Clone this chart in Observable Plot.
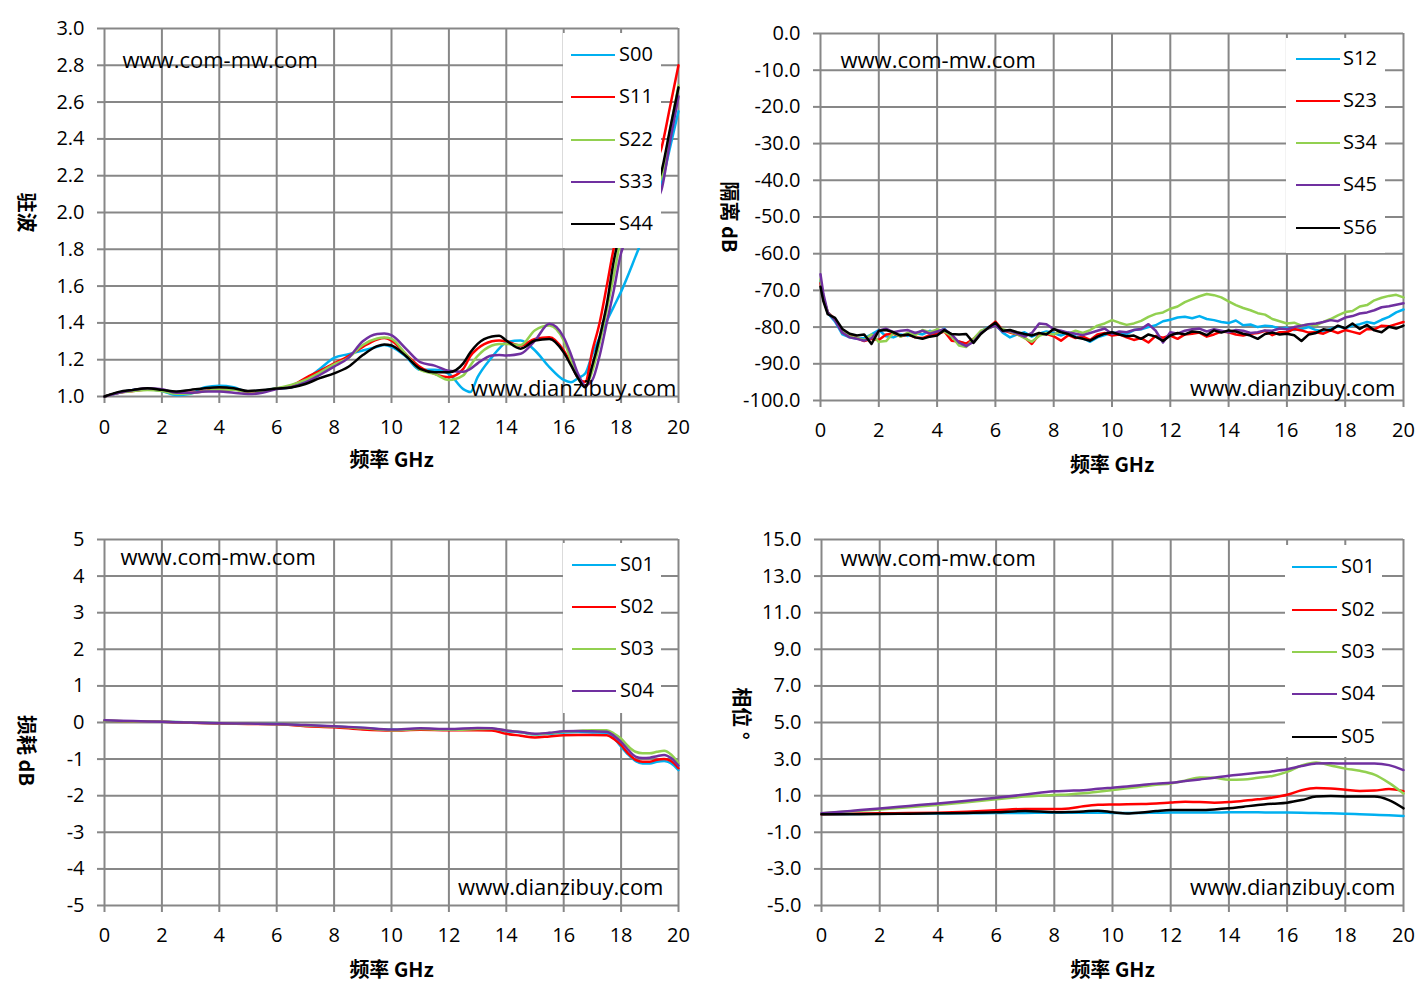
<!DOCTYPE html>
<html><head><meta charset="utf-8">
<script src="https://cdn.jsdelivr.net/npm/d3@7"></script>
<script src="https://cdn.jsdelivr.net/npm/@observablehq/plot@0.6"></script>
<style>
html,body{margin:0;padding:0;background:#fff;}
body{width:1427px;height:999px;position:relative;overflow:hidden;font-family:"Open Sans",sans-serif;color:#000;}
.panel{position:absolute;}
.panel svg{overflow:visible;}
.legend{position:absolute;background:#fff;}
.lg-line{position:absolute;height:2px;}
.lg-text{position:absolute;font-size:20px;line-height:28px;height:28px;white-space:nowrap;}
</style></head>
<body>
<script>
// ---------- shared ----------
const xTicks = [0,2,4,6,8,10,12,14,16,18,20];
const seriesColors = ["#00B0F0","#FF0000","#92D050","#7030A0","#000000"];
const xTitle = "频率 GHz";
const siteA = "www.com-mw.com";
const siteB = "www.dianzibuy.com";

// ---------- panel 1: VSWR ----------
const vswrNames = ["S00","S11","S22","S33","S44"];
const vswrTicks = [1.0,1.2,1.4,1.6,1.8,2.0,2.2,2.4,2.6,2.8,3.0];
const vswrFreq = [0,0.5,1,1.5,2,2.5,3,3.5,4,4.5,5,5.5,6,6.5,7,7.5,8,8.5,9,9.5,9.75,10,10.5,11,11.5,12,12.5,12.75,13,13.5,13.75,14,14.5,15,15.5,16,16.25,16.5,16.75,17,17.25,17.5,17.75,18,18.5,19,19.4,19.7,20];
const vswrS00 = [1.00,1.02,1.035,1.04,1.03,1.008,1.015,1.05,1.058,1.05,1.027,1.032,1.043,1.05,1.09,1.15,1.21,1.23,1.25,1.27,1.28,1.27,1.217,1.145,1.145,1.123,1.04,1.024,1.105,1.214,1.26,1.295,1.304,1.25,1.16,1.09,1.078,1.10,1.125,1.23,1.32,1.41,1.49,1.57,1.76,1.96,2.15,2.35,2.55];
const vswrS11 = [1.00,1.02,1.03,1.038,1.035,1.02,1.02,1.03,1.04,1.04,1.025,1.03,1.043,1.058,1.10,1.14,1.18,1.22,1.27,1.31,1.318,1.304,1.23,1.16,1.123,1.105,1.15,1.22,1.26,1.30,1.305,1.30,1.277,1.313,1.322,1.25,1.18,1.10,1.08,1.25,1.40,1.60,1.81,1.96,2.10,2.22,2.346,2.57,2.80];
const vswrS22 = [1.00,1.02,1.03,1.036,1.03,1.015,1.018,1.028,1.038,1.036,1.027,1.03,1.045,1.063,1.09,1.13,1.175,1.21,1.28,1.315,1.32,1.313,1.23,1.145,1.123,1.09,1.115,1.17,1.22,1.277,1.285,1.286,1.28,1.36,1.386,1.304,1.20,1.10,1.06,1.14,1.29,1.47,1.66,1.86,2.00,2.10,2.19,2.44,2.69];
const vswrS33 = [1.00,1.02,1.035,1.045,1.04,1.02,1.02,1.027,1.027,1.02,1.013,1.02,1.04,1.05,1.076,1.117,1.162,1.21,1.30,1.34,1.342,1.333,1.26,1.187,1.168,1.14,1.135,1.15,1.18,1.223,1.225,1.223,1.232,1.304,1.395,1.322,1.23,1.123,1.06,1.09,1.22,1.40,1.58,1.78,1.92,2.02,2.12,2.38,2.63];
const vswrS44 = [1.00,1.025,1.036,1.045,1.036,1.027,1.036,1.045,1.05,1.045,1.03,1.035,1.043,1.049,1.068,1.10,1.126,1.162,1.225,1.274,1.283,1.277,1.22,1.15,1.132,1.132,1.18,1.24,1.286,1.326,1.33,1.304,1.26,1.304,1.313,1.24,1.17,1.10,1.05,1.17,1.32,1.50,1.74,1.90,2.00,2.10,2.22,2.45,2.68];

// ---------- panel 2: isolation ----------
const isoNames = ["S12","S23","S34","S45","S56"];
const isoTicks = [0,-10,-20,-30,-40,-50,-60,-70,-80,-90,-100];
const isoFreq = [0,0.1,0.25,0.5,0.75,1,1.25,1.5,1.75,2,2.25,2.5,2.75,3,3.25,3.5,3.75,4,4.25,4.5,4.75,5,5.25,5.5,5.75,6,6.25,6.5,6.75,7,7.25,7.5,7.75,8,8.25,8.5,8.75,9,9.25,9.5,9.75,10,10.25,10.5,10.75,11,11.25,11.5,11.75,12,12.25,12.5,12.75,13,13.25,13.5,13.75,14,14.25,14.5,14.75,15,15.25,15.5,15.75,16,16.25,16.5,16.75,17,17.25,17.5,17.75,18,18.25,18.5,18.75,19,19.25,19.5,19.75,20];
const isoS12 = [-67.5,-72,-76.2,-78.5,-82.0,-82.8,-83.2,-83.0,-82.0,-80.8,-82.5,-82.8,-82.0,-82.4,-81.6,-82.0,-81.0,-81.6,-80.4,-82.8,-84.0,-84.5,-83.7,-81.2,-80.0,-79.2,-81.5,-82.8,-82.0,-81.4,-82.6,-81.8,-81.2,-81.6,-82.3,-81.5,-82.6,-83.0,-84.0,-82.8,-82.2,-81.4,-81.8,-81.9,-80.8,-80.6,-80.0,-79.5,-78.4,-78.0,-77.4,-77.2,-77.6,-77.0,-77.8,-78.1,-78.6,-78.9,-78.2,-79.5,-79.3,-80.0,-79.6,-79.8,-80.4,-80.2,-80.8,-80.5,-80.0,-80.8,-81.2,-80.5,-79.8,-80.3,-79.6,-79.2,-78.6,-79.0,-78.0,-77.2,-76.0,-75.2];
const isoS23 = [-68,-72.5,-76,-77.8,-81.5,-82.3,-83.0,-83.8,-83.2,-83.5,-82.0,-81.8,-82.5,-82.0,-82.8,-83.0,-82.2,-81.8,-81.2,-83.7,-83.9,-84.5,-83.2,-81.5,-80.2,-78.5,-80.8,-81.5,-82.0,-82.8,-84.6,-82.0,-81.8,-82.5,-83.7,-82.2,-83.0,-82.6,-83.5,-82.0,-81.6,-82.3,-82.0,-82.8,-83.5,-83.0,-84.2,-82.4,-82.9,-82.3,-83.2,-82.0,-81.8,-81.5,-82.6,-82.0,-81.2,-81.4,-82.0,-82.3,-81.8,-81.6,-81.0,-82.2,-81.4,-81.4,-80.5,-80.9,-81.5,-81.4,-81.8,-80.9,-81.6,-80.8,-81.3,-81.8,-80.5,-80.6,-79.6,-79.8,-79.2,-78.6];
const isoS34 = [-67,-72,-76,-78.0,-81.0,-82.5,-83.0,-83.5,-82.0,-84.0,-83.8,-81.6,-82.6,-81.5,-82.2,-80.8,-81.4,-80.6,-81.2,-82.5,-85.0,-85.4,-83.2,-81.0,-80.4,-79.5,-80.6,-81.2,-82.0,-83.0,-84.0,-82.4,-81.6,-82.0,-81.2,-81.8,-81.0,-81.6,-80.8,-79.6,-79.0,-78.1,-78.8,-79.4,-79.0,-78.3,-77.2,-76.4,-76.0,-75.0,-74.4,-73.2,-72.4,-71.6,-71.0,-71.3,-71.9,-73.0,-74.0,-74.8,-75.4,-76.2,-76.6,-77.8,-78.4,-79.0,-78.8,-79.6,-79.2,-79.5,-78.6,-77.8,-76.8,-75.9,-75.6,-74.4,-74.0,-72.7,-72.0,-71.5,-71.2,-71.9];
const isoS45 = [-65.6,-71,-76,-78.2,-81.5,-82.8,-83.2,-83.7,-83.0,-81.0,-80.4,-81.4,-81.0,-80.8,-81.6,-81.0,-81.8,-81.2,-80.6,-82.0,-84.2,-85.2,-84.0,-81.6,-80.3,-79.6,-81.2,-81.0,-81.8,-82.6,-81.6,-79.0,-79.2,-80.6,-81.0,-81.5,-81.8,-82.2,-81.6,-81.0,-80.4,-81.9,-81.2,-81.4,-80.8,-80.5,-79.2,-81.0,-84.2,-81.4,-81.8,-81.0,-80.6,-80.4,-81.2,-80.6,-81.0,-81.4,-80.8,-81.0,-81.6,-81.4,-80.9,-81.0,-80.4,-80.6,-80.0,-79.6,-79.2,-79.0,-78.6,-78.1,-78.4,-77.4,-77.0,-76.3,-76.0,-75.4,-74.6,-74.3,-73.9,-73.5];
const isoS56 = [-69,-73,-76.5,-77.5,-80.5,-81.8,-82.3,-82.0,-84.6,-81.0,-80.8,-81.4,-82.3,-82.0,-82.8,-83.2,-82.6,-82.3,-80.8,-81.9,-82.0,-81.9,-84.3,-81.9,-80.2,-78.8,-81.0,-80.8,-81.4,-81.9,-82.3,-81.6,-82.0,-80.5,-81.4,-81.9,-82.8,-83.2,-83.7,-82.6,-81.8,-81.4,-82.0,-82.5,-82.3,-83.2,-82.0,-82.6,-83.8,-82.3,-81.6,-82.0,-81.2,-81.4,-82.2,-80.9,-81.5,-80.9,-81.2,-81.8,-82.3,-83.2,-81.9,-81.5,-82.0,-81.8,-82.2,-83.8,-82.0,-81.6,-80.6,-80.9,-79.6,-80.3,-79.0,-80.5,-79.4,-80.9,-81.4,-79.9,-80.4,-79.6];

// ---------- panel 3: insertion loss ----------
const lossNames = ["S01","S02","S03","S04"];
const lossTicks = [5,4,3,2,1,0,-1,-2,-3,-4,-5];
const lossFreq = [0,1,2,3,4,5,6,7,8,9,10,11,12,13,13.5,14,14.5,15,15.5,16,16.5,17,17.5,17.75,18,18.25,18.5,18.75,19,19.25,19.5,19.75,20];
const lossS01 = [0.05,0.03,0.02,0.0,-0.02,-0.03,-0.04,-0.08,-0.11,-0.15,-0.20,-0.18,-0.19,-0.19,-0.18,-0.24,-0.27,-0.33,-0.31,-0.27,-0.26,-0.27,-0.28,-0.42,-0.66,-0.88,-1.05,-1.12,-1.12,-1.07,-1.05,-1.12,-1.30];
const lossS02 = [0.05,0.03,0.02,-0.01,-0.03,-0.04,-0.05,-0.10,-0.13,-0.19,-0.22,-0.20,-0.21,-0.21,-0.22,-0.31,-0.36,-0.41,-0.38,-0.35,-0.34,-0.34,-0.35,-0.45,-0.62,-0.85,-1.02,-1.07,-1.07,-1.02,-1.00,-1.06,-1.25];
const lossS03 = [0.05,0.03,0.02,0.0,-0.02,-0.03,-0.04,-0.08,-0.11,-0.16,-0.21,-0.18,-0.20,-0.18,-0.17,-0.22,-0.26,-0.32,-0.29,-0.25,-0.23,-0.21,-0.21,-0.30,-0.44,-0.65,-0.80,-0.84,-0.84,-0.80,-0.77,-0.88,-1.12];
const lossS04 = [0.06,0.04,0.02,0.0,-0.02,-0.03,-0.04,-0.07,-0.10,-0.14,-0.19,-0.16,-0.18,-0.15,-0.16,-0.22,-0.26,-0.31,-0.28,-0.24,-0.23,-0.24,-0.25,-0.36,-0.53,-0.75,-0.93,-0.97,-0.96,-0.92,-0.89,-0.98,-1.18];

// ---------- panel 4: phase ----------
const phaseNames = ["S01","S02","S03","S04","S05"];
const phaseTicks = [15,13,11,9,7,5,3,1,-1,-3,-5];
const phaseFreq = [0,1,2,3,4,5,6,7,8,8.5,9,9.5,10,10.5,11,11.5,12,12.5,13,13.5,14,14.5,15,15.5,16,16.5,17,17.5,18,18.5,19,19.5,20];
const phaseS01 = [-0.02,0.0,0.01,0.02,0.03,0.04,0.05,0.06,0.07,0.07,0.07,0.07,0.06,0.05,0.06,0.07,0.08,0.08,0.08,0.08,0.09,0.09,0.09,0.08,0.08,0.07,0.05,0.04,0.02,-0.01,-0.04,-0.07,-0.11];
const phaseS02 = [-0.02,0.02,0.04,0.05,0.07,0.12,0.20,0.28,0.27,0.30,0.42,0.50,0.52,0.53,0.55,0.58,0.63,0.67,0.65,0.62,0.65,0.72,0.80,0.90,1.05,1.30,1.42,1.40,1.33,1.26,1.28,1.36,1.25];
const phaseS03 = [0.04,0.15,0.25,0.37,0.49,0.64,0.80,0.95,1.04,1.07,1.13,1.22,1.31,1.40,1.50,1.60,1.67,1.82,2.00,1.98,1.87,1.88,1.98,2.08,2.30,2.65,2.82,2.65,2.48,2.36,2.15,1.70,1.12];
const phaseS04 = [0.04,0.17,0.30,0.44,0.58,0.73,0.89,1.06,1.24,1.27,1.30,1.38,1.44,1.50,1.58,1.66,1.71,1.80,1.89,1.98,2.09,2.17,2.25,2.33,2.44,2.62,2.76,2.77,2.76,2.76,2.76,2.67,2.40];
const phaseS05 = [-0.02,-0.01,0.0,0.02,0.04,0.06,0.09,0.16,0.10,0.11,0.14,0.18,0.10,0.03,0.08,0.16,0.22,0.22,0.22,0.25,0.31,0.40,0.49,0.56,0.62,0.76,0.95,0.98,0.96,0.95,0.95,0.76,0.31];

// ---------- drawing ----------
const GRID = "#878787";
const CJK = '"Noto Sans CJK SC", sans-serif';

function longTable(freq, names, values) {
  const rows = [];
  names.forEach((n, i) => freq.forEach((f, j) => rows.push({f, v: values[i][j], s: n})));
  return rows;
}

function panel(cfg) {
  const data = longTable(cfg.freq, cfg.names, cfg.values);
  const chart = Plot.plot({
    width: cfg.w, height: cfg.h,
    marginLeft: cfg.ml, marginRight: cfg.mr, marginTop: cfg.mt, marginBottom: cfg.mb,
    style: {fontFamily: '"Open Sans", sans-serif', fontSize: "20px", color: "#000", background: "transparent", overflow: "visible"},
    x: {domain: [0, 20]},
    y: {domain: cfg.yDomain},
    color: {domain: cfg.names, range: seriesColors.slice(0, cfg.names.length)},
    marks: [
      Plot.ruleX(xTicks, {x: d => d, stroke: GRID, strokeWidth: 2}),
      Plot.ruleY(cfg.yTicks, {y: d => d, stroke: GRID, strokeWidth: 2}),
      Plot.axisX({ticks: xTicks, tickSize: 7, tickPadding: cfg.xpad, stroke: GRID, strokeWidth: 2, fill: "#000", label: null, tickFormat: d => String(d), fontSize: 20}),
      Plot.axisY({ticks: cfg.yTicks, tickSize: 7, tickPadding: 13, stroke: GRID, strokeWidth: 2, fill: "#000", label: null, tickFormat: cfg.fmt, fontSize: 20}),
      Plot.line(data, {x: "f", y: "v", z: "s", stroke: "s", strokeWidth: 2.5, curve: cfg.curve}),
      Plot.text([siteA], {text: d => d, frameAnchor: "top-left", textAnchor: "start", lineAnchor: "middle", dx: cfg.a[0], dy: cfg.a[1], fontSize: 22, fill: "#000"}),
      Plot.text([siteB], {text: d => d, frameAnchor: "bottom-right", textAnchor: "end", lineAnchor: "middle", dx: cfg.b[0], dy: cfg.b[1], fontSize: 22, fill: "#000"}),
      Plot.text([xTitle], {text: d => d, frameAnchor: "bottom", textAnchor: "middle", lineAnchor: "middle", dy: cfg.xl, fontSize: 20, fontWeight: "bold", fontFamily: CJK, fill: "#000"}),
      Plot.text([cfg.ylabel], {text: d => d, frameAnchor: "left", textAnchor: "middle", lineAnchor: "middle", rotate: 90, dx: cfg.yl[0], dy: cfg.yl[1], fontSize: 20, fontWeight: "bold", fontFamily: CJK, fill: "#000"})
    ]
  });
  const div = document.createElement("div");
  div.className = "panel";
  div.style.left = cfg.left + "px";
  div.style.top = cfg.top + "px";
  div.appendChild(chart);
  document.body.appendChild(div);

  // legend (white box over plot area)
  const lg = cfg.legend;
  const box = document.createElement("div");
  box.className = "legend";
  box.style.left = lg.x0 + "px"; box.style.top = lg.y0 + "px";
  box.style.width = (lg.x1 - lg.x0) + "px"; box.style.height = (lg.y1 - lg.y0) + "px";
  document.body.appendChild(box);
  cfg.names.forEach((n, i) => {
    const y = lg.rows[i];
    const ln = document.createElement("div");
    ln.className = "lg-line";
    ln.style.left = lg.line[0] + "px"; ln.style.width = (lg.line[1] - lg.line[0]) + "px";
    ln.style.top = (y - 1) + "px"; ln.style.background = seriesColors[i];
    document.body.appendChild(ln);
    const tx = document.createElement("div");
    tx.className = "lg-text";
    tx.style.left = lg.text + "px"; tx.style.top = (y - 15) + "px";
    tx.textContent = n;
    document.body.appendChild(tx);
  });
}

panel({
  left: 0, top: 0, w: 700, h: 490, ml: 104, mr: 22, mt: 28, mb: 94,
  freq: vswrFreq, names: vswrNames, values: [vswrS00, vswrS11, vswrS22, vswrS33, vswrS44],
  yDomain: [1.0, 3.0], yTicks: vswrTicks, fmt: d => d.toFixed(1), curve: "monotone-x",
  xpad: 16, xl: 64, ylabel: "驻波", yl: [-79, 0],
  a: [18, 32], b: [-2, -8],
  legend: {x0: 563, x1: 661, y0: 33, y1: 248, rows: [55, 97, 140, 182, 224], line: [571, 615], text: 619}
});

panel({
  left: 710, top: 0, w: 717, h: 490, ml: 110, mr: 24, mt: 33, mb: 90,
  freq: isoFreq, names: isoNames, values: [isoS12, isoS23, isoS34, isoS45, isoS56],
  yDomain: [-100, 0], yTicks: isoTicks, fmt: d => d.toFixed(1), curve: "linear",
  xpad: 15, xl: 65, ylabel: "隔离 dB", yl: [-92, 0],
  a: [20, 27], b: [-8, -12],
  legend: {x0: 1286, x1: 1385, y0: 38, y1: 253, rows: [59, 101, 143, 185, 228], line: [1296, 1340], text: 1343}
});

panel({
  left: 0, top: 500, w: 700, h: 499, ml: 104, mr: 22, mt: 39, mb: 94,
  freq: lossFreq, names: lossNames, values: [lossS01, lossS02, lossS03, lossS04],
  yDomain: [-5, 5], yTicks: lossTicks, fmt: d => String(d), curve: "monotone-x",
  xpad: 15, xl: 65, ylabel: "损耗 dB", yl: [-79, 28],
  a: [16, 18], b: [-15, -18],
  legend: {x0: 563, x1: 661, y0: 543, y1: 713, rows: [565, 607, 649, 691], line: [572, 616], text: 620}
});

panel({
  left: 710, top: 500, w: 717, h: 499, ml: 111, mr: 24, mt: 39, mb: 94,
  freq: phaseFreq, names: phaseNames, values: [phaseS01, phaseS02, phaseS03, phaseS04, phaseS05],
  yDomain: [-5, 15], yTicks: phaseTicks, fmt: d => d.toFixed(1), curve: "monotone-x",
  xpad: 15, xl: 65, ylabel: "相位 °", yl: [-81, -9],
  a: [19, 19], b: [-8, -18],
  legend: {x0: 1285, x1: 1382, y0: 545, y1: 757, rows: [567, 610, 652, 694, 737], line: [1292, 1337], text: 1341}
});
</script>
</body></html>
